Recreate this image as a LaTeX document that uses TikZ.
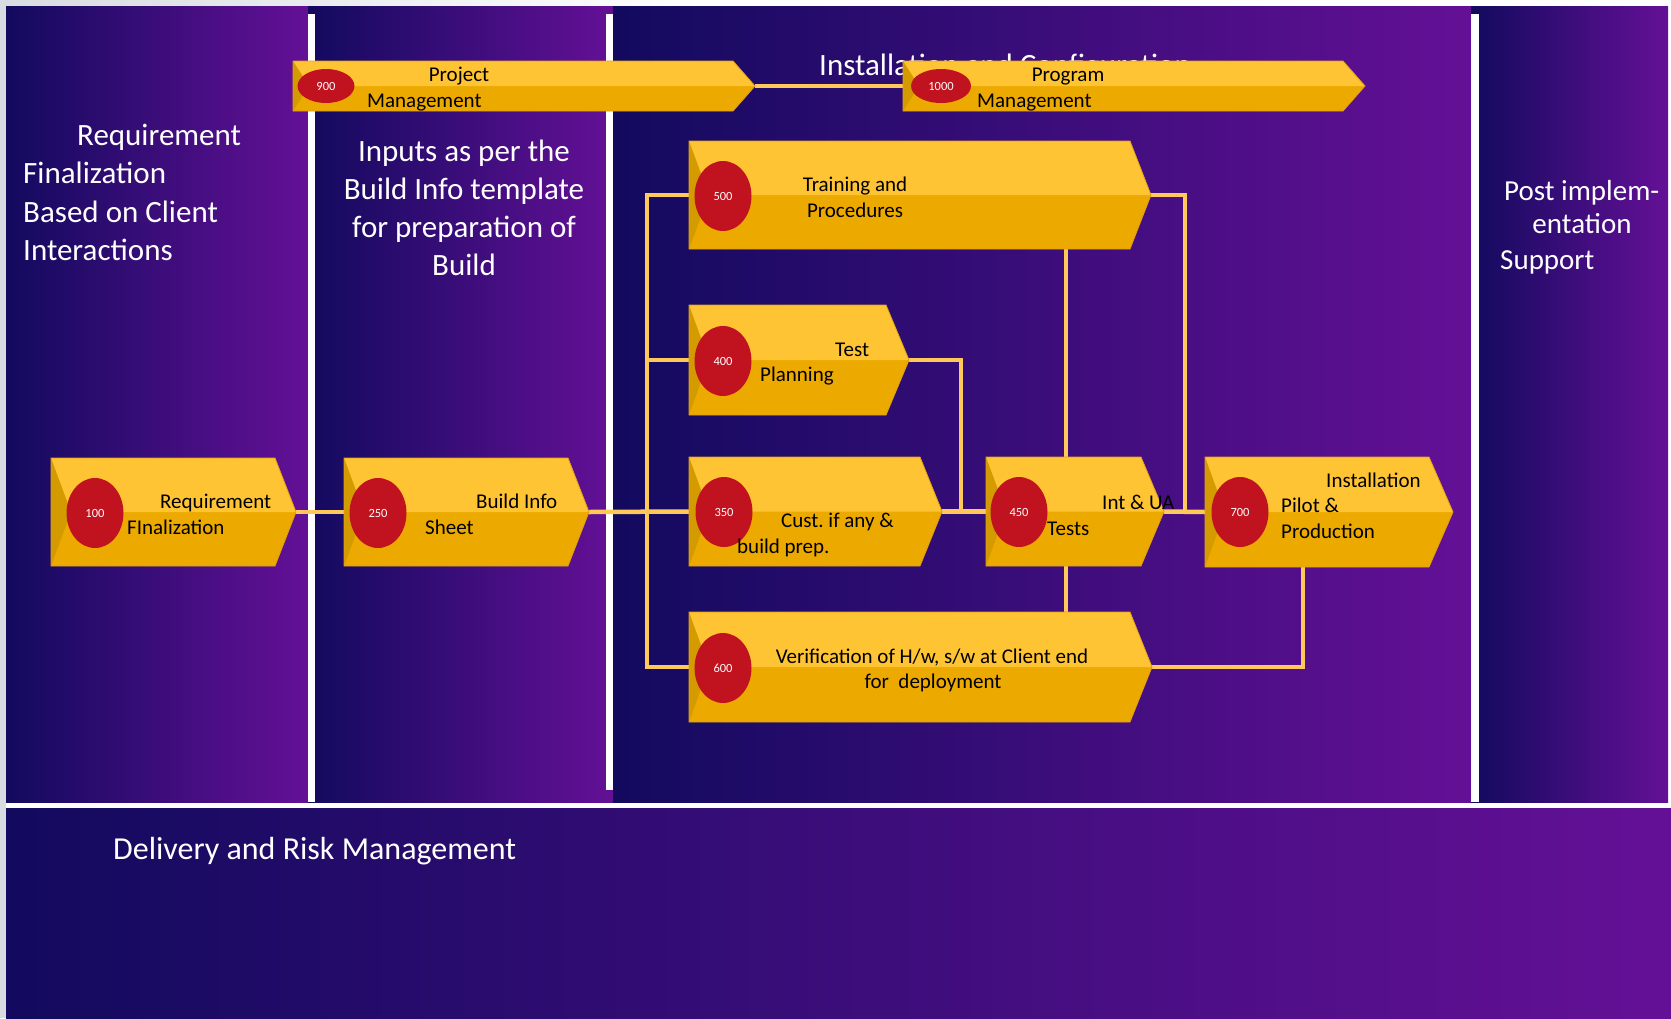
\documentclass[tikz,border=0pt]{standalone}
\usepackage{fontspec}
\setmainfont{Carlito}
\frenchspacing
\usetikzlibrary{fit,shapes.geometric}
\pgfdeclarelayer{back}
\pgfdeclarelayer{bg}
\pgfsetlayers{back,bg,main}
\definecolor{navyc}{RGB}{18,10,94}
\definecolor{purpc}{RGB}{100,16,150}
\definecolor{ylight}{RGB}{255,196,51}
\definecolor{ydark}{RGB}{236,169,0}
\definecolor{ybevel}{RGB}{212,155,0}
\definecolor{yedge}{RGB}{222,160,20}
\definecolor{redc}{RGB}{193,19,31}
\definecolor{connc}{RGB}{255,200,90}
\definecolor{grayc}{RGB}{216,220,224}
\newcommand{\chevbox}[7]{%
  \pgfmathsetmacro{\cbm}{(#3+#4)/2}
  \fill[ydark] (#2,#3) -- (#5,#3) -- (#6,\cbm) -- (#5,#4) -- (#2,#4) -- cycle;
  \fill[ylight] (#2,#3) -- (#5,#3) -- (#6,\cbm) -- (#2,\cbm) -- cycle;
  \fill[ybevel] (#2,#3) -- ({#2+#7},\cbm) -- (#2,#4) -- cycle;
  \draw[yedge, line width=0.8] (#2,#3) -- (#5,#3) -- (#6,\cbm) -- (#5,#4) -- (#2,#4) -- cycle;
  \node[fit={(#2,#3) (#6,#4)}, inner sep=0] (#1) {};
}
\tikzset{
  panel/.style={left color=navyc, right color=purpc},
  ptext/.style={text=white, inner sep=0, font=\fontsize{31}{37}\selectfont},
  btext/.style={text=black, inner sep=0, font=\fontsize{21}{25}\selectfont},
  num/.style={ellipse, fill=redc, text=white, inner sep=0, minimum width=57, minimum height=70, font=\fontsize{12.5}{15}\selectfont},
  conn/.style={draw=connc, line width=4.5}
}
\begin{document}
\begin{tikzpicture}[x=1pt,y=-1pt]
\useasboundingbox (0,0) rectangle (1671,1018);
\begin{pgfonlayer}{back}
\fill[white] (0,0) rectangle (1671,1018);
\fill[grayc] (0,0) rectangle (6,1018);
\shade[left color=grayc, right color=white] (0,0) rectangle (700,6);
\shade[panel] (6,6) rectangle (308,802);
\shade[panel] (308,6) rectangle (613,802);
\shade[panel] (613,6) rectangle (1471,802);
\shade[panel] (1471,6) rectangle (1668,802);
\fill[white] (308,14) rectangle (315,802);
\fill[white] (606,14) rectangle (613,790);
\fill[white] (1471,14) rectangle (1479,802);
\shade[panel] (6,808) rectangle (1671,1018);
% panel texts
\node[ptext, anchor=base west] (p1a) at (77,145) {Requirement};
\node[ptext, anchor=base west] (p1b) at (23,183) {Finalization};
\node[ptext, anchor=base west] (p1c) at (23,222) {Based on Client};
\node[ptext, anchor=base west] (p1d) at (23,260) {Interactions};
\node[ptext, anchor=base] (p2a) at (464,161) {Inputs as per the};
\node[ptext, anchor=base] (p2b) at (464,199) {Build Info template};
\node[ptext, anchor=base] (p2c) at (464,237) {for preparation of};
\node[ptext, anchor=base] (p2d) at (464,275) {Build};
\node[ptext, anchor=base west] (p3a) at (819,75) {Installation and Configuration};
\node[ptext, anchor=base west, font=\fontsize{29}{35}\selectfont] (p4a) at (1504,200) {Post implem-};
\node[ptext, anchor=base, font=\fontsize{29}{35}\selectfont] (p4b) at (1582,233) {entation};
\node[ptext, anchor=base west, font=\fontsize{29}{35}\selectfont] (p4c) at (1500,269) {Support};
\node[ptext, anchor=base west, font=\fontsize{32}{38}\selectfont] (p5a) at (113,859) {Delivery and Risk Management};
\end{pgfonlayer}
% boxes
\chevbox{b900}{293}{61}{111}{733}{755}{16}
\chevbox{b1000}{903}{61}{111}{1343}{1365}{16}
\chevbox{b100}{51}{458}{566}{275}{296}{20}
\chevbox{b250}{344}{458}{566}{568}{589}{20}
\chevbox{b500}{689}{141}{249}{1130}{1151}{20}
\chevbox{b400}{689}{305}{415}{886}{909}{20}
\chevbox{b350}{689}{457}{566}{920}{942}{20}
\chevbox{b450}{986}{457}{566}{1141}{1164}{20}
\chevbox{b700}{1205}{457}{567}{1429}{1453}{20}
\chevbox{b600}{689}{612}{722}{1130}{1152}{20}
% circles
\node[num, minimum width=57, minimum height=34] (c900) at (326,86) {900};
\node[num, minimum width=60, minimum height=34] (c1000) at (941,86) {1000};
\node[num] (c100) at (95,513) {100};
\node[num] (c250) at (378,513) {250};
\node[num] (c500) at (723,196) {500};
\node[num] (c400) at (723,361) {400};
\node[num] (c350) at (724,512) {350};
\node[num] (c450) at (1019,512) {450};
\node[num] (c700) at (1240,512) {700};
\node[num] (c600) at (723,668) {600};
% box texts
\node[btext, anchor=base] (t900a) at (459,81) {Project};
\node[btext, anchor=base west] (t900b) at (367,107) {Management};
\node[btext, anchor=base] (t1000a) at (1068,81) {Program};
\node[btext, anchor=base west] (t1000b) at (977,107) {Management};
\node[btext, anchor=base west] (t100a) at (160,508) {Requirement};
\node[btext, anchor=base west] (t100b) at (127,534) {FInalization};
\node[btext, anchor=base west] (t250a) at (476,508) {Build Info};
\node[btext, anchor=base west] (t250b) at (425,534) {Sheet};
\node[btext, anchor=base] (t500a) at (855,191) {Training and};
\node[btext, anchor=base] (t500b) at (855,217) {Procedures};
\node[btext, anchor=base west] (t400a) at (835,356) {Test};
\node[btext, anchor=base west] (t400b) at (760,381) {Planning};
\node[btext, anchor=base west] (t350a) at (781,527) {Cust.\ if any \&};
\node[btext, anchor=base west] (t350b) at (737,553) {build prep.};
\node[btext, anchor=base west] (t450a) at (1102,509) {Int \& UA};
\node[btext, anchor=base west] (t450b) at (1047,535) {Tests};
\node[btext, anchor=base west] (t700a) at (1326,487) {Installation};
\node[btext, anchor=base west] (t700b) at (1281,512) {Pilot \&};
\node[btext, anchor=base west] (t700c) at (1281,538) {Production};
\node[btext, anchor=base] (t600a) at (932,663) {Verification of H/w, s/w at Client end};
\node[btext, anchor=base] (t600b) at (933,688) {for\ \ deployment};
% connectors
\coordinate (busx) at (647,0);
\coordinate (j1x) at (961,0);
\coordinate (j2x) at (1185,0);
\coordinate (vx) at (1066,0);
\coordinate (j3x) at (1303,0);
\begin{pgfonlayer}{bg}
\draw[conn] (b100.east) -- (b250.west);
\draw[conn] (b250.east) -- (b350.west);
\draw[conn] (b500.west) -- (b500.west -| busx) -- (b600.west -| busx) -- (b600.west);
\draw[conn] (b400.west -| busx) -- (b400.west);
\draw[conn] (b400.east) -| (b350.east -| j1x);
\draw[conn] (b350.east) -- (b450.west);
\draw[conn] (b450.east) -- (b700.west);
\draw[conn] (b500.east) -| (b450.east -| j2x);
\draw[conn] (b500.south -| vx) -- (b450.north -| vx);
\draw[conn] (b450.south -| vx) -- (b600.north -| vx);
\draw[conn] (b600.east) -| (b700.south -| j3x);
\draw[conn] (b900.east) -- (b1000.west);
\end{pgfonlayer}
\end{tikzpicture}
\end{document}
